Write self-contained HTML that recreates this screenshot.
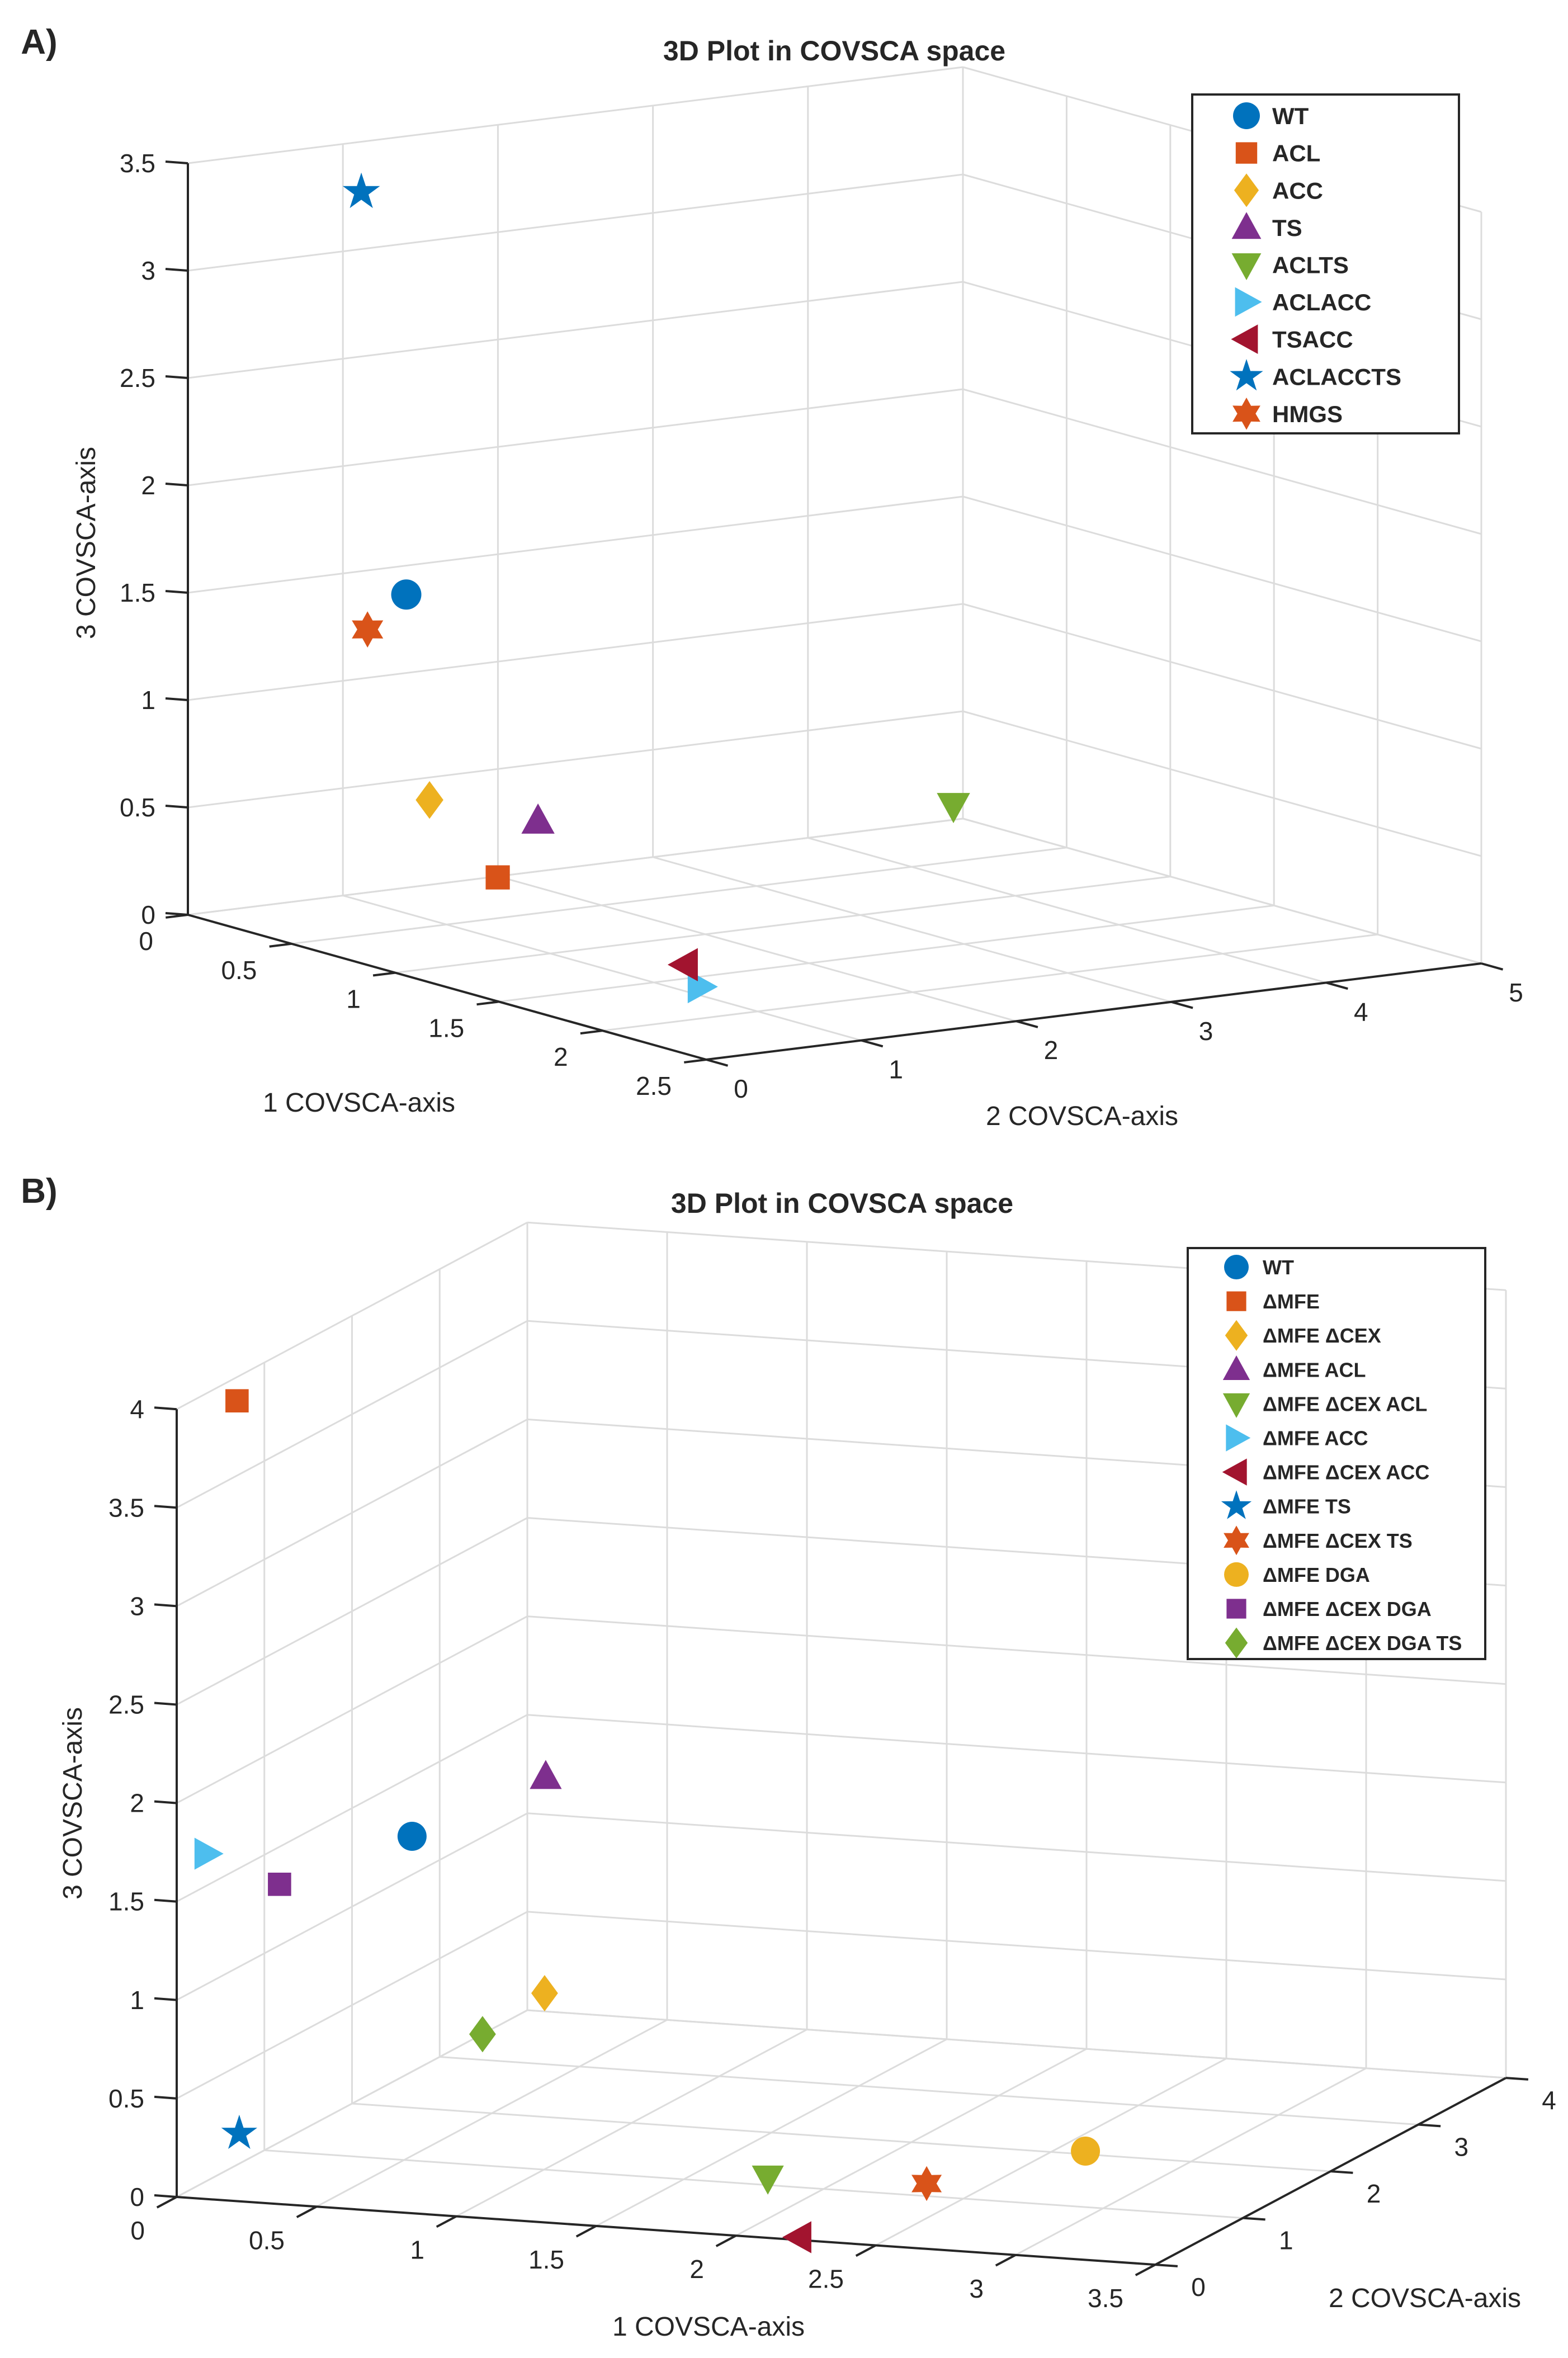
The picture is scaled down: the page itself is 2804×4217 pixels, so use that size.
<!DOCTYPE html>
<html><head><meta charset="utf-8">
<style>
html,body{margin:0;padding:0;background:#fff;}
svg{display:block;}
text{font-family:"Liberation Sans",Arial,sans-serif;fill:#262626;}
</style></head>
<body>
<svg id="fig" width="2804" height="4217" viewBox="0 0 2804 4217" xmlns="http://www.w3.org/2000/svg">
<rect x="0" y="0" width="2804" height="4217" fill="#fff"/>
</svg>
<script>
// ---------- Panel A data ----------
const namesA = ["WT","ACL","ACC","TS","ACLTS","ACLACC","TSACC","ACLACCTS","HMGS"];
const x1A = [0.5,0.5,0.5,0.5,0.5,1.62,1.59,0.5,0.5];
const x2A = [0.74,1.33,0.89,1.59,4.27,1.14,1.08,0.45,0.49];
const zA  = [1.56,0.19,0.59,0.43,0.26,0.0,0.1,3.46,1.42];
const ticksX1A = [0,0.5,1,1.5,2,2.5];
const ticksX2A = [0,1,2,3,4,5];
const ticksZA  = [0,0.5,1,1.5,2,2.5,3,3.5];
// ---------- Panel B data ----------
const namesB = ["WT","ΔMFE","ΔMFE ΔCEX","ΔMFE ACL","ΔMFE ΔCEX ACL","ΔMFE ACC","ΔMFE ΔCEX ACC","ΔMFE TS","ΔMFE ΔCEX TS","ΔMFE DGA","ΔMFE ΔCEX DGA","ΔMFE ΔCEX DGA TS"];
const x1B = [0.685,0.059,1.159,1.163,1.758,0.045,2.209,0.161,2.294,2.604,0.211,0.937];
const x2B = [0.5,0.5,0.5,0.5,1.136,0.2,0.053,0.2,1.238,2.061,0.5,0.5];
const zB  = [1.78,3.93,1.03,2.13,0,1.70,0,0.29,0,0,1.49,0.80];
const ticksX1B = [0,0.5,1,1.5,2,2.5,3,3.5];
const ticksX2B = [0,1,2,3,4];
const ticksZB  = [0,0.5,1,1.5,2,2.5,3,3.5,4];

const NS="http://www.w3.org/2000/svg";
const svg=document.getElementById('fig');
function mk(tag,attrs,parent){const e=document.createElementNS(NS,tag);for(const k in attrs)e.setAttribute(k,attrs[k]);(parent||svg).appendChild(e);return e;}
const C={blue:"#0072BD",orange:"#D95319",yellow:"#EDB120",purple:"#7E2F8E",green:"#77AC30",cyan:"#4DBEEE",red:"#A2142F"};

function markerPath(shape,cx,cy,s){
  let pts=[];
  if(shape==='s'){return `M${cx-s*0.8},${cy-s*0.8}h${s*1.6}v${s*1.6}h${-s*1.6}Z`;}
  if(shape==='d'){pts=[[0,-1.25],[0.92,0],[0,1.25],[-0.92,0]];}
  if(shape==='^'){pts=[[0,-1.15],[1.1,0.85],[-1.1,0.85]];}
  if(shape==='v'){pts=[[0,1.15],[1.1,-0.85],[-1.1,-0.85]];}
  if(shape==='>'){pts=[[1.15,0],[-0.85,1.1],[-0.85,-1.1]];}
  if(shape==='<'){pts=[[-1.15,0],[0.85,1.1],[0.85,-1.1]];}
  if(shape==='p'){for(let i=0;i<10;i++){const r=i%2?0.5:1.3;const a=-Math.PI/2+i*Math.PI/5;pts.push([r*Math.cos(a),r*Math.sin(a)]);}}
  if(shape==='h'){for(let i=0;i<12;i++){const r=i%2?0.68:1.2;const a=-Math.PI/2+i*Math.PI/6;pts.push([r*Math.cos(a),r*Math.sin(a)]);}}
  return 'M'+pts.map(p=>(cx+p[0]*s).toFixed(1)+','+(cy+p[1]*s).toFixed(1)).join('L')+'Z';
}
function drawMarker(g,shape,color,cx,cy,s){
  if(shape==='o'){return mk('circle',{cx:cx,cy:cy,r:s,fill:color},g);}
  return mk('path',{d:markerPath(shape,cx,cy,s),fill:color},g);
}

function panel(cfg){
  const g=mk('g',{});
  
  
  const L=cfg.L;
  const P=(x1,x2,z)=>[L[0]+x1*cfg.a[0]+x2*cfg.b[0], L[1]+x1*cfg.a[1]+x2*cfg.b[1]-z*cfg.cz];
  const X1M=cfg.tx1[cfg.tx1.length-1], X2M=cfg.tx2[cfg.tx2.length-1], ZM=cfg.tz[cfg.tz.length-1];
  const grid=mk('g',{stroke:"#dcdcdc","stroke-width":3,fill:"none"},g);
  
  
  const line=(p,q,par,extra)=>mk('line',Object.assign({x1:p[0],y1:p[1],x2:q[0],y2:q[1]},extra||{}),par);
  // left wall (x1=0) & floor lines along x2 grid
  cfg.tx2.forEach(v=>{line(P(0,v,0),P(0,v,ZM),grid);line(P(0,v,0),P(X1M,v,0),grid);});
  // back wall (x2=max) & floor along x1
  cfg.tx1.forEach(v=>{line(P(v,X2M,0),P(v,X2M,ZM),grid);line(P(v,0,0),P(v,X2M,0),grid);});
  cfg.tz.forEach(v=>{line(P(0,0,v),P(0,X2M,v),grid);line(P(0,X2M,v),P(X1M,X2M,v),grid);});
  // axes
  const ax=mk('g',{stroke:"#262626","stroke-width":4,fill:"none"},g);
  
  
  line(P(0,0,0),P(0,0,ZM),ax);
  line(P(0,0,0),P(X1M,0,0),ax);
  line(P(X1M,0,0),P(X1M,X2M,0),ax);
  const lab=mk('g',{"font-size":46},g);
  
  
  cfg.tz.forEach(v=>{const p=P(0,0,v);line(p,[p[0]-40,p[1]-3],ax);
    const t=mk('text',{x:p[0]-58,y:p[1]+16,"text-anchor":"end"},lab);t.textContent=v;});
  const bl=Math.hypot(cfg.b[0],cfg.b[1]);
  cfg.tx1.forEach(v=>{const p=P(v,0,0);line(p,[p[0]-cfg.b[0]/bl*40,p[1]-cfg.b[1]/bl*40],ax);
    const t=mk('text',{x:p[0]+cfg.x1off[0],y:p[1]+cfg.x1off[1]+16,"text-anchor":"end"},lab);t.textContent=v;});
  const al=Math.hypot(cfg.a[0],cfg.a[1]);
  cfg.tx2.forEach(v=>{const p=P(X1M,v,0);line(p,[p[0]+cfg.a[0]/al*40,p[1]+cfg.a[1]/al*40],ax);
    const t=mk('text',{x:p[0]+cfg.x2off[0],y:p[1]+cfg.x2off[1]+16,"text-anchor":"middle"},lab);t.textContent=v;});
  // titles
  let t;
  t=mk('text',{x:cfg.title[0],y:cfg.title[1]+18,"text-anchor":"middle","font-size":50,"font-weight":"bold",fill:"#000"},g);t.textContent="3D Plot in COVSCA space";
  
  t=mk('text',{x:cfg.panel[0],y:cfg.panel[1]+22,"text-anchor":"middle","font-size":62,"font-weight":"bold",fill:"#000"},g);t.textContent=cfg.id.toUpperCase()+")";
  
  t=mk('text',{x:0,y:0,"text-anchor":"middle","font-size":48,transform:`translate(${cfg.zt[0]+17},${cfg.zt[1]}) rotate(-90)`},g);t.textContent="3 COVSCA-axis";
  
  t=mk('text',{x:cfg.x1t[0],y:cfg.x1t[1]+17,"text-anchor":"middle","font-size":48},g);t.textContent="1 COVSCA-axis";
  
  t=mk('text',{x:cfg.x2t[0],y:cfg.x2t[1]+17,"text-anchor":"middle","font-size":48},g);t.textContent="2 COVSCA-axis";
  
  // points
  const pg=mk('g',{},g);
  
  
  cfg.names.forEach((n,i)=>{const p=P(cfg.x1[i],cfg.x2[i],cfg.z[i]);
    const m=drawMarker(pg,cfg.shapes[i],cfg.colors[i],p[0],p[1],cfg.ms);
    
    });
  // legend
  const lg=mk('g',{},g);
  
  
  const lb=cfg.leg;
  mk('rect',{x:lb.x,y:lb.y,width:lb.w,height:lb.h,fill:"#fff",stroke:"#262626","stroke-width":4},lg);
  cfg.names.forEach((n,i)=>{const y=lb.y0+i*lb.step;
    const e=mk('g',{},lg);
    
    
    drawMarker(e,cfg.shapes[i],cfg.colors[i],lb.mx,y,lb.ms);
    const tt=mk('text',{x:lb.tx,y:y+lb.fs*0.36,"font-size":lb.fs,"font-weight":"bold",fill:"#111"},e);tt.textContent=n;});
}

panel({id:'a',L:[336,1636],a:[370.8,103.6],b:[277.2,-34.4],cz:384,
  tx1:ticksX1A,tx2:ticksX2A,tz:ticksZA,x1off:[-62,47],x2off:[62,52],
  title:[1492,90],panel:[70,74],zt:[153,971],x1t:[642,1971],x2t:[1935,1995],
  names:namesA,x1:x1A,x2:x2A,z:zA,ms:27,
  shapes:['o','s','d','^','v','>','<','p','h'],
  colors:[C.blue,C.orange,C.yellow,C.purple,C.green,C.cyan,C.red,C.blue,C.orange],
  leg:{x:2132,y:169,w:477,h:606,y0:207,step:66.6,mx:2229,tx:2275,ms:24,fs:42}});

panel({id:'b',L:[316,3929],a:[500,34.6],b:[156.75,-83.5],cz:352.2,
  tx1:ticksX1B,tx2:ticksX2B,tz:ticksZB,x1off:[-57,60],x2off:[77,40],
  title:[1506,2151],panel:[70,2129],zt:[129,3225],x1t:[1267,4160],x2t:[2548,4109],
  names:namesB,x1:x1B,x2:x2B,z:zB,ms:26,
  shapes:['o','s','d','^','v','>','<','p','h','o','s','d'],
  colors:[C.blue,C.orange,C.yellow,C.purple,C.green,C.cyan,C.red,C.blue,C.orange,C.yellow,C.purple,C.green],
  leg:{x:2124,y:2232,w:532,h:735,y0:2266,step:61.1,mx:2211,tx:2258,ms:22,fs:36}});
</script>
</body></html>
